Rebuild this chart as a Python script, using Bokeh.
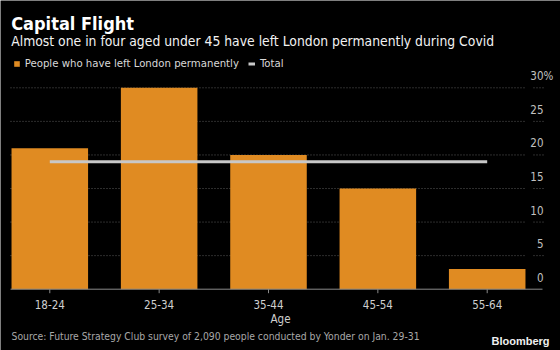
from bokeh.plotting import figure
from bokeh.models import Range1d, ColumnDataSource, Label, Legend, LegendItem
from bokeh.core.properties import value
from bokeh.embed import file_html
from bokeh.resources import INLINE

# ---- data ----
ages = ["18-24", "25-34", "35-44", "45-54", "55-64"]
left_pct = [21, 30, 20, 15, 3]
total_pct = 19
y_ticks = [0, 5, 10, 15, 20, 25, 30]
y_tick_labels = ["0", "5", "10", "15", "20", "25", "30"]
unit_suffix = "%"
title_text = "Capital Flight"
subtitle_text = "Almost one in four aged under 45 have left London permanently during Covid"
legend_bar = "People who have left London permanently"
legend_line = "Total"
x_label = "Age"
source_text = "Source: Future Strategy Club survey of 2,090 people conducted by Yonder on Jan. 29-31"
brand = "Bloomberg"

# ---- layout (pixels) ----
W, H = 560, 350
C0, STEP = 49.3, 109.35       # px of first category centre, px per category
Y0_PX = 288.7                 # px of value 0
PX_PER_UNIT = 6.713

FONT = "Liberation Sans Narrow, DejaVu Sans Condensed, sans-serif"
BG = "#000000"
BAR = "#E08B22"
LINE = "#C8C8C8"
GRID = "#5a5a5a"
AXIS = "#8a8a8a"
LBL = "#CFCFCF"
SUB = "#A8A8A8"


def px_to_x(px):
    return (px - C0) / STEP


def px_to_y(py):
    return (Y0_PX - py) / PX_PER_UNIT


p = figure(width=W, height=H, output_backend="svg", toolbar_location=None,
           x_range=Range1d(px_to_x(0), px_to_x(W)), y_range=Range1d(px_to_y(H), px_to_y(0)),
           x_axis_location=None, y_axis_location=None,
           min_border=0, background_fill_color=BG, border_fill_color=BG)
p.outline_line_color = None
p.grid.visible = False

xs = list(range(len(ages)))
src = ColumnDataSource(dict(x=xs, y=left_pct, age=ages))

# dotted grid lines, broken before the labels
grid_ticks = [t for t in y_ticks if t > 0]
n = len(grid_ticks)
gsrc = ColumnDataSource(dict(y=grid_ticks,
                             xa0=[px_to_x(10)] * n, xa1=[px_to_x(524)] * n,
                             xb0=[px_to_x(533)] * n, xb1=[px_to_x(543)] * n))
p.segment(x0="xa0", x1="xa1", y0="y", y1="y", source=gsrc, line_color=GRID, line_width=1, line_dash="1 2")
p.segment(x0="xb0", x1="xb1", y0="y", y1="y", source=gsrc, line_color=GRID, line_width=1, line_dash="1 2")

bars = p.vbar(x="x", top="y", bottom=0, width=0.70, source=src, fill_color=BAR, line_color=None)
tot = p.line(x=xs, y=[total_pct] * len(xs), line_color=LINE, line_width=3)

# baseline + category ticks
p.segment(x0=[px_to_x(10)], x1=[px_to_x(542)], y0=[0], y1=[0], line_color=AXIS, line_width=1)
p.segment(x0=xs, x1=xs, y0=[0] * len(xs), y1=[-4 / PX_PER_UNIT] * len(xs), line_color=AXIS, line_width=1)

# category labels and axis title
p.text(x=xs, y=[0] * len(xs), text=ages, text_align="center", text_baseline="middle",
       y_offset=15, text_font=value(FONT), text_font_size="11.5px", text_color=LBL)
p.text(x=[px_to_x(280)], y=[0], text=[x_label], text_align="center", text_baseline="middle",
       y_offset=29.6, text_font=value(FONT), text_font_size="11.5px", text_color=LBL)

# y tick labels (above their grid lines, right side)
lx = px_to_x(543)
ysrc = ColumnDataSource(dict(x=[lx] * len(y_ticks), y=y_ticks, t=y_tick_labels))
p.text(x="x", y="y", text="t", source=ysrc, text_align="right", text_baseline="middle",
       y_offset=-12, text_font=value(FONT), text_font_size="11.5px", text_color="#C0C0C0")
p.text(x=[lx], y=[y_ticks[-1]], text=[unit_suffix], text_align="left", text_baseline="middle",
       y_offset=-12, text_font=value(FONT), text_font_size="11.5px", text_color="#C0C0C0")

# legend
legend = Legend(items=[LegendItem(label=legend_bar, renderers=[bars]),
                       LegendItem(label=legend_line, renderers=[tot])],
                orientation="horizontal", location=(12.7, H - 63.5 - 7),
                background_fill_alpha=0, border_line_color=None, padding=0, margin=0,
                spacing=9, glyph_width=7, glyph_height=7, label_standoff=5,
                label_height=14, label_text_font=FONT, label_text_font_size="11.3px",
                label_text_color="#D8D8D8", label_text_baseline="middle")
p.add_layout(legend)

# titles & footer
p.add_layout(Label(x=10.7, y=H - 23, x_units="screen", y_units="screen", text=title_text,
                   text_baseline="middle", text_font=FONT, text_font_style="bold",
                   text_font_size="18px", text_color="#FFFFFF"))
p.add_layout(Label(x=10.7, y=H - 40.7, x_units="screen", y_units="screen", text=subtitle_text,
                   text_baseline="middle", text_font=FONT, text_font_size="13.8px",
                   text_color="#F2F2F2"))
p.add_layout(Label(x=11, y=H - 335.7, x_units="screen", y_units="screen", text=source_text,
                   text_baseline="middle", text_font=FONT, text_font_size="10.3px",
                   text_color=SUB))
p.add_layout(Label(x=549, y=H - 340, x_units="screen", y_units="screen", text=brand,
                   text_align="right", text_baseline="middle", text_font="Liberation Sans, sans-serif",
                   text_font_style="bold", text_font_size="11px", text_color="#F0F0F0"))

open("out.html", "w").write(file_html(p, INLINE))
